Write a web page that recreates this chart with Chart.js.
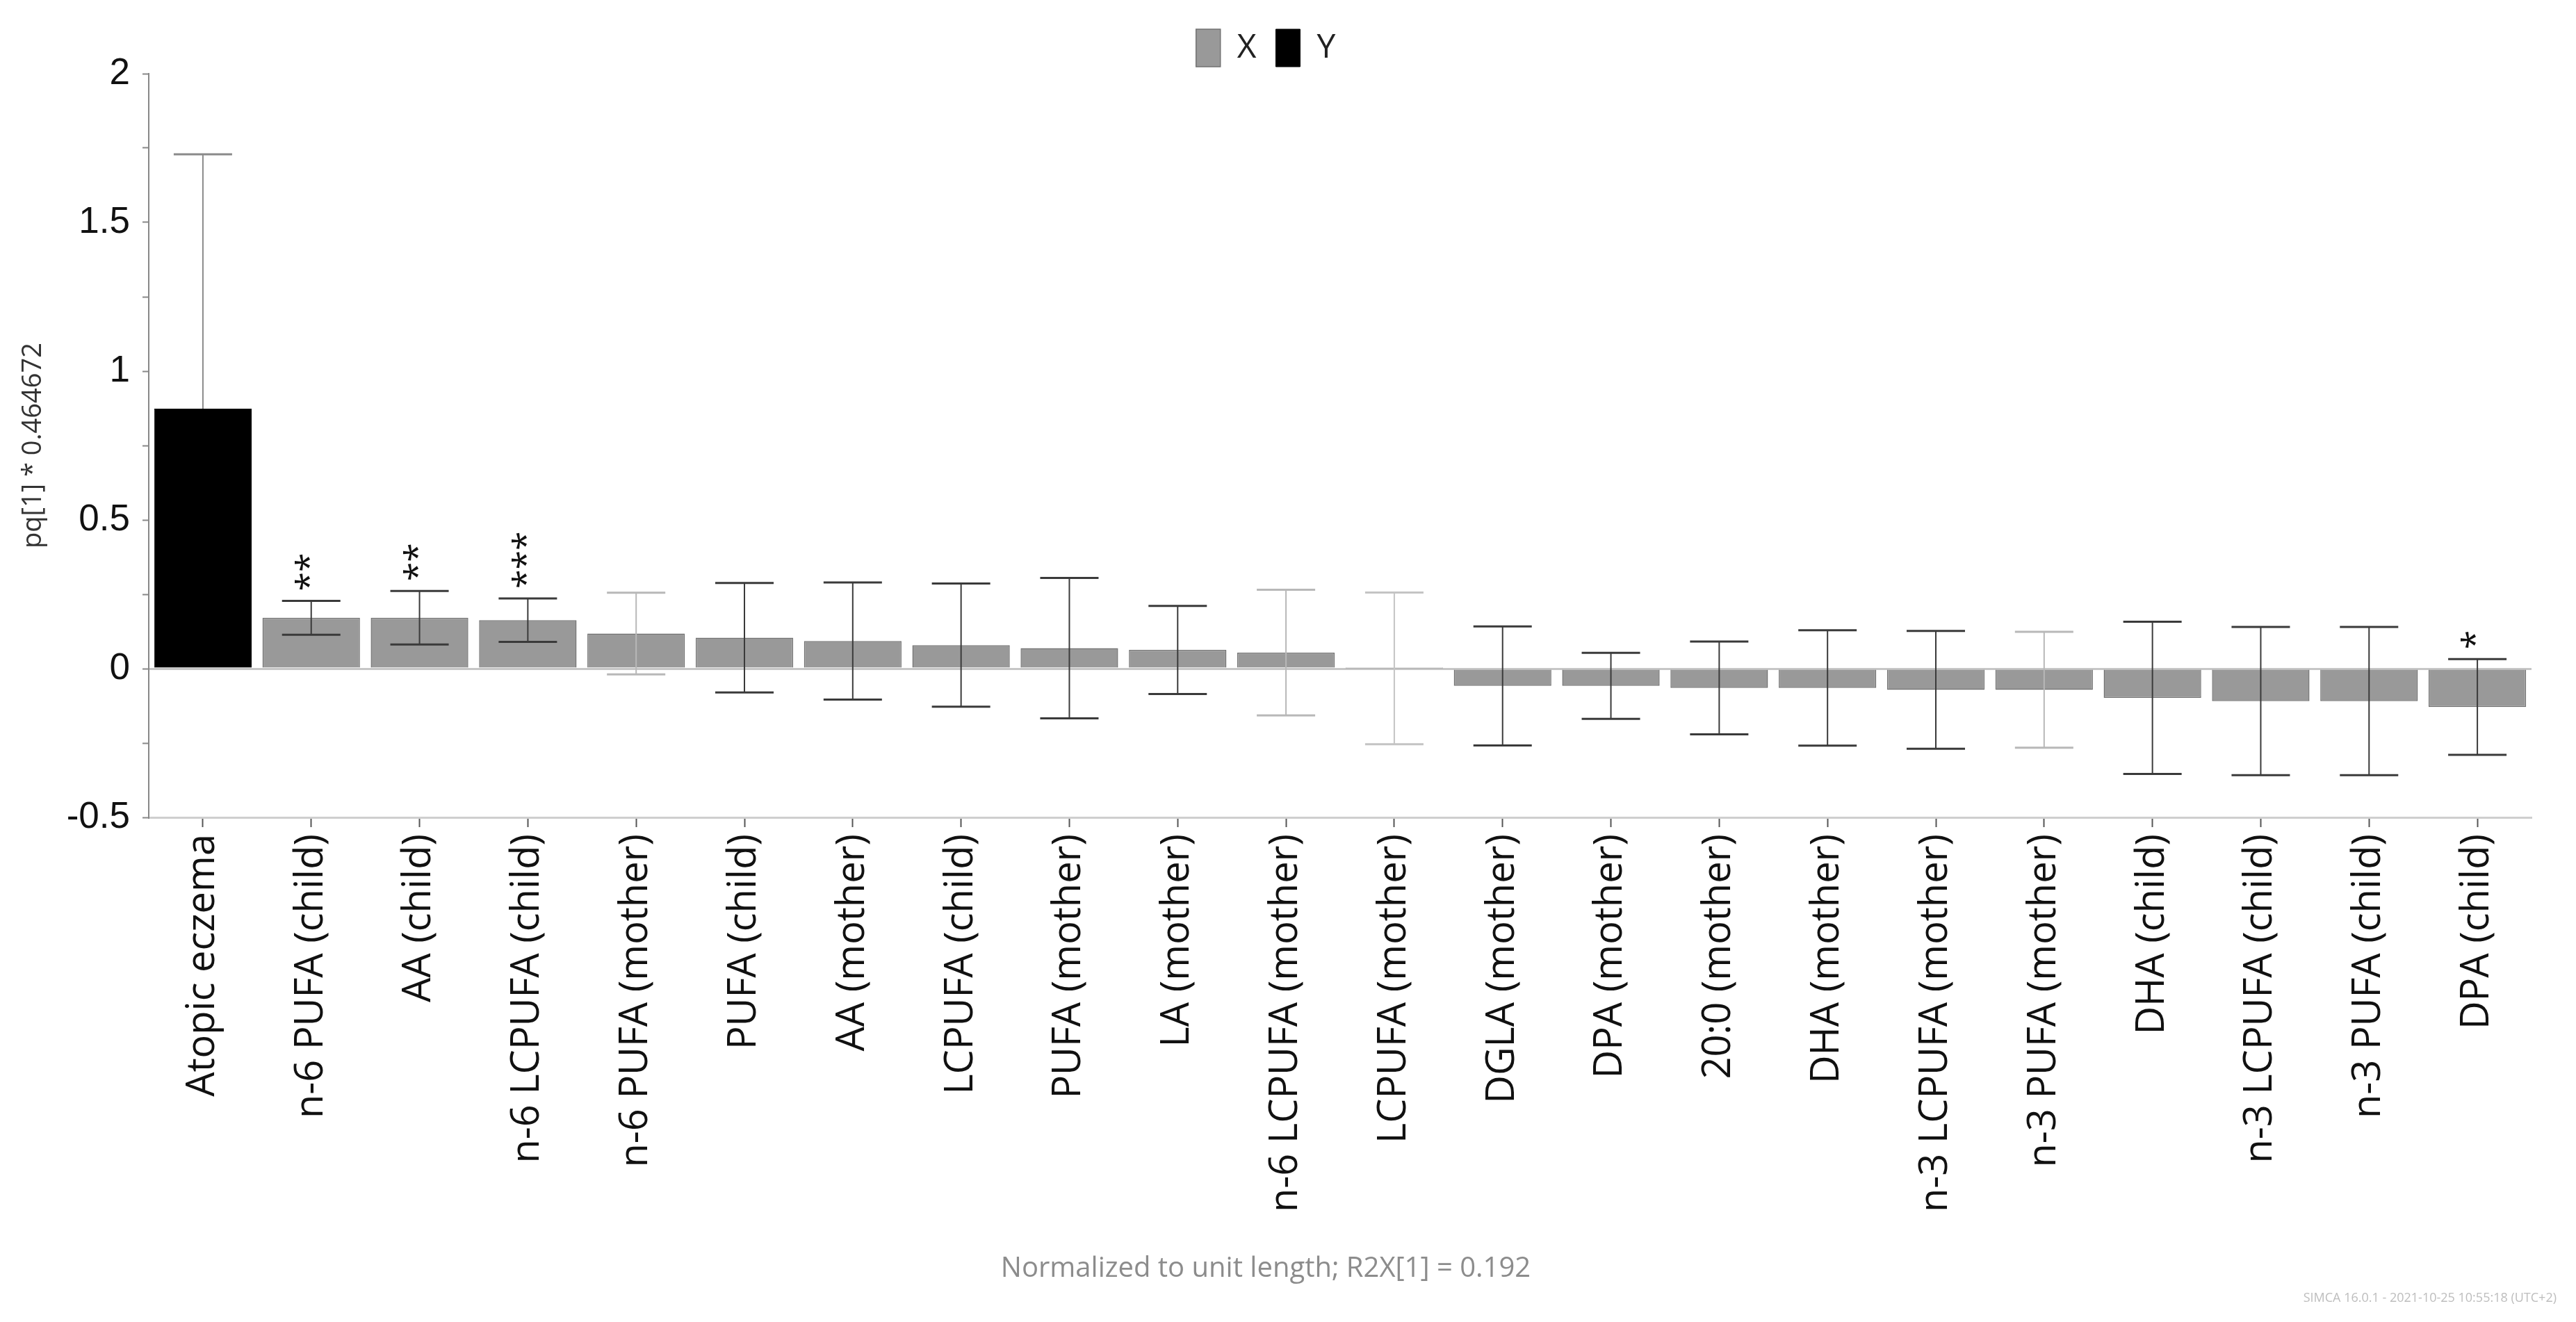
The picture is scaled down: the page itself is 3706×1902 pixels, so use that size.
<!DOCTYPE html>
<html>
<head>
<meta charset="utf-8">
<script src="https://cdn.jsdelivr.net/npm/chart.js@4.4.1/dist/chart.umd.min.js"></script>
<style>
  html, body { margin: 0; padding: 0; background: #fff; }
  #wrap { width: 3706px; height: 1902px; }
</style>
</head>
<body>
<div id="wrap"><canvas id="loadings" width="3706" height="1902"></canvas></div>
<script>
// variables, in the order SIMCA sorted them
const categories = [
  'Atopic eczema', 'n-6 PUFA (child)', 'AA (child)', 'n-6 LCPUFA (child)',
  'n-6 PUFA (mother)', 'PUFA (child)', 'AA (mother)', 'LCPUFA (child)',
  'PUFA (mother)', 'LA (mother)', 'n-6 LCPUFA (mother)', 'LCPUFA (mother)',
  'DGLA (mother)', 'DPA (mother)', '20:0 (mother)', 'DHA (mother)',
  'n-3 LCPUFA (mother)', 'n-3 PUFA (mother)', 'DHA (child)',
  'n-3 LCPUFA (child)', 'n-3 PUFA (child)', 'DPA (child)'
];
const groups = ['Y', 'X', 'X', 'X', 'X', 'X', 'X', 'X', 'X', 'X', 'X',
                'X', 'X', 'X', 'X', 'X', 'X', 'X', 'X', 'X', 'X', 'X'];
// pq[1] * 0.464672
const loadings = [0.874, 0.171, 0.171, 0.163, 0.118, 0.104, 0.093, 0.079,
                  0.069, 0.063, 0.054, 0.001, -0.058, -0.058, -0.065, -0.065,
                  -0.071, -0.071, -0.098, -0.109, -0.109, -0.129];
// half width of the confidence interval
const ciHalf = [0.855, 0.057, 0.090, 0.073, 0.137, 0.184, 0.197, 0.207,
                0.236, 0.148, 0.211, 0.255, 0.200, 0.111, 0.156, 0.194,
                0.198, 0.195, 0.256, 0.249, 0.249, 0.161];
const stars = ['', '**', '**', '***', '', '', '', '', '', '', '', '',
               '', '', '', '', '', '', '', '', '', '*'];
const yTickLabels = [-0.5, 0, 0.5, 1, 1.5, 2];

// minor ticks halfway between the labelled ones
let yTickValues = [];
yTickLabels.forEach((v, i) => {
  yTickValues.push(v);
  if (i < yTickLabels.length - 1) yTickValues.push((v + yTickLabels[i + 1]) / 2);
});

const xData = loadings.map((v, i) => groups[i] === 'X' ? v : null);
const yData = loadings.map((v, i) => groups[i] === 'Y' ? v : null);

// some of the interval lines are drawn fainter in the original
const ciColor = i => {
  if (i === 0) return '#8a8a8a';
  if (i === 4 || i === 10 || i === 17) return '#b8b8b8';
  if (i === 11) return '#c4c4c4';
  return '#3a3a3a';
};

function drawCI(chart, group) {
  const c = chart.ctx;
  const xs = chart.scales.x, ys = chart.scales.y;
  c.save();
  loadings.forEach((v, i) => {
    if (groups[i] !== group) return;
    const x = xs.getPixelForValue(i);
    const top = ys.getPixelForValue(v + ciHalf[i]);
    const bot = ys.getPixelForValue(v - ciHalf[i]);
    c.strokeStyle = ciColor(i);
    c.lineWidth = 2;
    c.beginPath();
    c.moveTo(x, top);
    c.lineTo(x, bot);
    c.stroke();
    c.lineWidth = 3;
    c.beginPath();
    c.moveTo(x - 42, top); c.lineTo(x + 42, top);
    c.moveTo(x - 42, bot); c.lineTo(x + 42, bot);
    c.stroke();

    if (stars[i]) {
      c.save();
      c.translate(x, top - 14);
      c.rotate(-Math.PI / 2);
      c.font = '50px "Open Sans"';
      c.fillStyle = '#111';
      c.textAlign = 'left';
      c.textBaseline = 'middle';
      c.fillText(stars[i], 0, 0);
      c.restore();
    }
  });
  c.restore();
}

// the Y interval sits behind its black bar, the X ones on top of theirs
const errorBars = {
  id: 'errorBars',
  beforeDatasetsDraw(chart) { drawCI(chart, 'Y'); },
  afterDatasetsDraw(chart) { drawCI(chart, 'X'); }
};

const footerText = {
  id: 'footerText',
  afterDraw(chart) {
    const c = chart.ctx;
    c.save();
    c.font = '40px "Open Sans"';
    c.fillStyle = '#8c8c8c';
    c.textAlign = 'center';
    c.textBaseline = 'middle';
    c.fillText('Normalized to unit length; R2X[1] = 0.192', 1821, 1826);
    c.font = '18px "Open Sans"';
    c.fillStyle = '#bdbdbd';
    c.textAlign = 'right';
    c.fillText('SIMCA 16.0.1 - 2021-10-25 10:55:18 (UTC+2)', 3678, 1868);
    c.restore();
  }
};

const ctx = document.getElementById('loadings').getContext('2d');

new Chart(ctx, {
  type: 'bar',
  data: {
    labels: categories,
    datasets: [
      { label: 'X', data: xData, backgroundColor: '#999999', borderColor: '#727272', borderWidth: 1.5 },
      { label: 'Y', data: yData, backgroundColor: '#000000', borderColor: '#000000', borderWidth: 1 }
    ]
  },
  options: {
    responsive: false,
    animation: false,
    devicePixelRatio: 1,
    layout: { padding: { top: 14, right: 64, bottom: 0, left: 0 } },
    datasets: { bar: { grouped: false, categoryPercentage: 1, barPercentage: 0.9 } },
    plugins: {
      legend: {
        labels: {
          boxWidth: 35,
          boxHeight: 54,
          padding: 28,
          color: '#222',
          font: { family: 'Open Sans', size: 48 }
        }
      },
      tooltip: { enabled: false }
    },
    scales: {
      x: {
        afterFit: s => { s.height = 726; },
        ticks: {
          autoSkip: false,
          minRotation: 90,
          maxRotation: 90,
          padding: 10,
          color: '#111',
          font: { family: 'Open Sans', size: 56 }
        },
        grid: { offset: false, drawOnChartArea: false, tickLength: 14, tickColor: '#555', tickWidth: 2 },
        border: { color: '#cfcfcf', width: 3 }
      },
      y: {
        min: -0.5,
        max: 2,
        afterFit: s => { s.width = 214; },
        afterBuildTicks: s => { s.ticks = yTickValues.map(v => ({ value: v })); },
        ticks: {
          callback: v => yTickLabels.includes(v) ? String(v) : '',
          padding: 18,
          color: '#111',
          font: { family: 'Liberation Sans', size: 53 }
        },
        grid: {
          color: c => (c.tick && c.tick.value === 0) ? '#c6c6c6' : 'rgba(0,0,0,0)',
          lineWidth: 3,
          tickLength: 9,
          tickColor: '#888',
          tickWidth: 2
        },
        border: { color: '#888', width: 2 },
        title: {
          display: true,
          text: 'pq[1] * 0.464672',
          color: '#333',
          font: { family: 'Open Sans', size: 38 },
          padding: { top: 25, bottom: 0 }
        }
      }
    }
  },
  plugins: [errorBars, footerText]
});
</script>
</body>
</html>
